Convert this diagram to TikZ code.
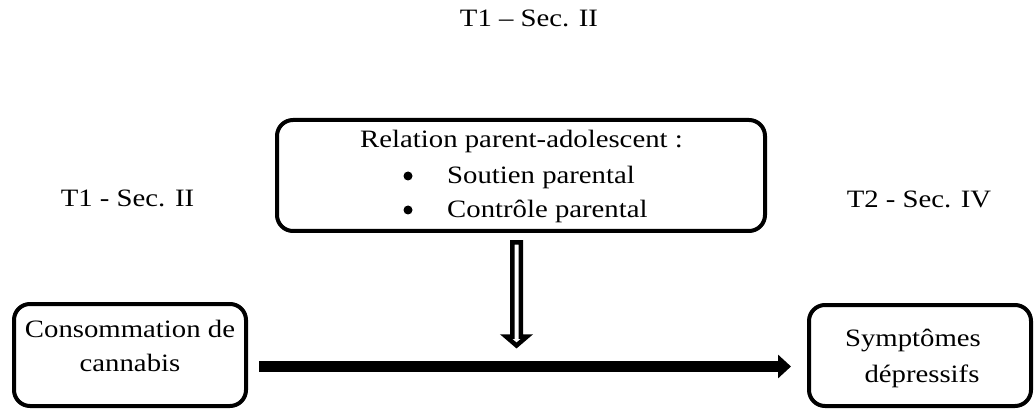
\documentclass[tikz,border=0pt]{standalone}
\usepackage{fontspec}
\setmainfont{Liberation Serif}[FakeStretch=1.15]
\usetikzlibrary{arrows.meta}
\begin{document}
\begin{tikzpicture}[x=1pt,y=1pt,
  every node/.style={font=\fontsize{25}{30}\selectfont, inner sep=0pt},
  box/.style={draw, line width=4pt, rounded corners=16pt},
  txt/.style={anchor=base},
  txtl/.style={anchor=base west},
  bul/.style={circle, fill, minimum size=9pt},
  mainarrow/.style={line width=11pt, -{Triangle[length=13pt,width=23pt]}},
  hollowarrow/.style={draw, line width=4.5pt, fill=white, line join=miter}]
\useasboundingbox (0,0) rectangle (1036,410);

% time labels
\node[txt] (ttop) at (529,383) {T1 -- Sec. II};
\node[txt] (tleft) at (127.5,203) {T1 - Sec. II};
\node[txt] (tright) at (919,202) {T2 - Sec. IV};

% boxes
\node[box, minimum width=488pt, minimum height=111pt] (rel) at (521,234.5) {};
\node[box, minimum width=232pt, minimum height=102pt] (cons) at (130,55) {};
\node[box, minimum width=222pt, minimum height=101pt] (symp) at (920,54.5) {};

% moderator text
\node[txt] (relT) at (521.5,262) {Relation parent-adolescent :};
\node[bul] (b1) at (408,234) {};
\node[txtl] (sout) at (447,226) {Soutien parental};
\node[bul] (b2) at (408,200) {};
\node[txtl] (ctrl) at (447,192) {Contrôle parental};

% box texts
\node[txt] (cons1) at (130,73) {Consommation de};
\node[txt] (cons2) at (130,39) {cannabis};
\node[txt] (symp1) at (913,64) {Symptômes};
\node[txt] (symp2) at (922,28) {dépressifs};

% main arrow
\coordinate (m1) at ([shift={(11pt,-11.5pt)}]cons.east);
\coordinate (m2) at ([shift={(-16pt,-11pt)}]symp.west);
\draw[mainarrow] (m1) -- (m2);

% moderating arrow
\coordinate (d) at ([shift={(-4.5pt,-9.5pt)}]rel.south);
\path[hollowarrow] ([xshift=-4.25pt]d) -- ++(0,-94) -- ++(-6.25,0) -- ++(10.5,-9) -- ++(10.5,9) -- ++(-6.25,0) -- ++(0,94) -- cycle;
\end{tikzpicture}
\end{document}
